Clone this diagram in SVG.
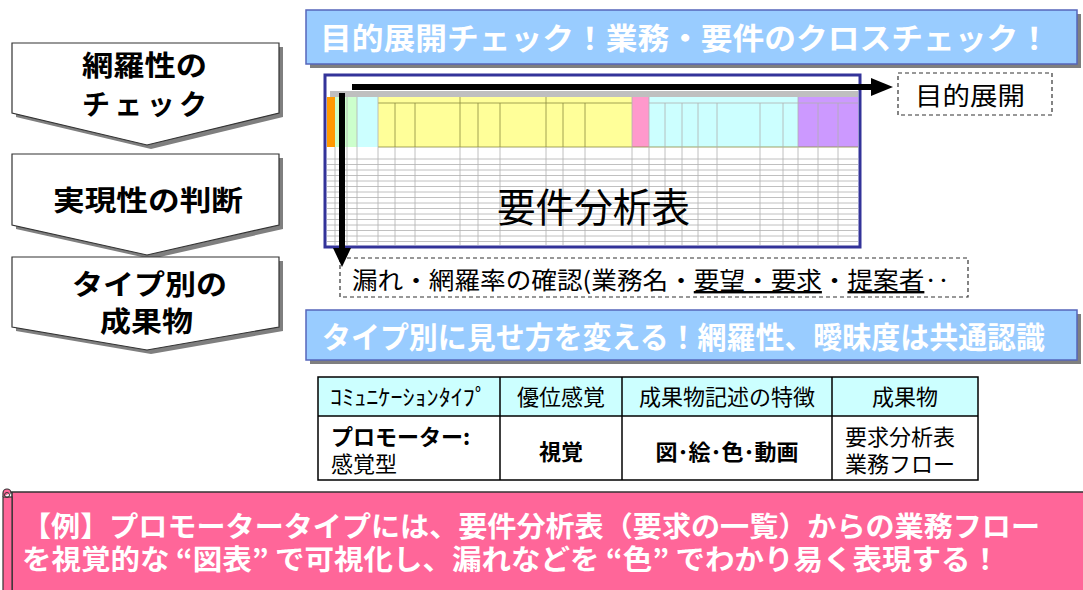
<svg xmlns="http://www.w3.org/2000/svg" width="1083" height="590" viewBox="0 0 1083 590">
<style>
text{font-family:"Noto Sans CJK JP","Noto Sans CJK SC",sans-serif}
.chev{fill:#fff;stroke:#333;stroke-width:1.2}
.shadow{fill:#7f7f7f}
.ct{font-size:28px;font-weight:bold;fill:#000}
.banner{fill:#99CCFF;stroke:#5566BB;stroke-width:1.5}
.bt{font-size:30px;font-weight:bold;fill:#fff}
.dash{fill:#fff;stroke:#333;stroke-width:1.2;stroke-dasharray:4 3}
.gl{stroke:#b0b0b0;stroke-width:0.8}
.hd{stroke:#8a8a40;stroke-width:0.8}
.tb{font-size:22px;fill:#000}
.pk{font-size:28px;font-weight:bold;fill:#fff}
</style>

<g id="chevron1">
<polygon class="shadow" points="16,47 283,47 283,117 151,149 16,117"/>
<polygon class="chev" points="12,43 279,43 279,113 147,145 12,113"/>
<text class="ct" x="82" y="76" textLength="125" lengthAdjust="spacingAndGlyphs">網羅性の</text>
<text class="ct" x="82" y="115" textLength="125" lengthAdjust="spacing">チェック</text>
</g>
<g id="chevron2">
<polygon class="shadow" points="16,158 283,158 283,229 151,259 16,229"/>
<polygon class="chev" points="12,154 279,154 279,225 147,255 12,225"/>
<text class="ct" x="53" y="211" textLength="190" lengthAdjust="spacingAndGlyphs">実現性の判断</text>
</g>
<g id="chevron3">
<polygon class="shadow" points="16,261 283,261 283,331 151,354 16,331"/>
<polygon class="chev" points="12,257 279,257 279,327 147,350 12,327"/>
<text class="ct" x="72" y="295" textLength="155" lengthAdjust="spacingAndGlyphs">タイプ別の</text>
<text class="ct" x="100" y="332" textLength="93" lengthAdjust="spacingAndGlyphs">成果物</text>
</g>

<g id="banner1">
<rect x="310" y="14" width="771" height="54" class="shadow"/>
<rect x="306" y="10" width="771" height="54" class="banner"/>
<text class="bt" x="320" y="49" textLength="730" lengthAdjust="spacingAndGlyphs">目的展開チェック！業務・要件のクロスチェック！</text>
</g>

<g id="sheet">
<rect x="325" y="75" width="535" height="172" fill="#fff" stroke="#333399" stroke-width="3"/>
<rect x="330" y="91" width="528" height="6" fill="#bfbfbf"/>
<rect x="378" y="97" width="254" height="6" fill="#ffff99"/>
<rect x="632" y="97" width="17" height="6" fill="#ff99cc"/>
<rect x="649" y="97" width="149" height="6" fill="#ccffff"/>
<rect x="798" y="97" width="60" height="6" fill="#cc99ff"/>
<rect x="327" y="97" width="8" height="50" fill="#ff9900"/>
<rect x="335" y="97" width="22" height="50" fill="#ccffcc"/>
<rect x="357" y="97" width="21" height="50" fill="#ccffff"/>
<rect x="378" y="103" width="254" height="44" fill="#ffff99"/>
<rect x="632" y="103" width="17" height="44" fill="#ff99cc"/>
<rect x="649" y="103" width="149" height="44" fill="#ccffff"/>
<rect x="798" y="103" width="60" height="44" fill="#cc99ff"/>
<g class="hd">
<line x1="378" y1="103" x2="632" y2="103"/>
<line x1="378" y1="147" x2="858" y2="147"/>
<line x1="395" y1="103" x2="395" y2="147"/>
<line x1="415" y1="103" x2="415" y2="147"/>
<line x1="460" y1="97" x2="460" y2="147"/>
<line x1="478" y1="103" x2="478" y2="147"/>
<line x1="500" y1="103" x2="500" y2="147"/>
<line x1="546" y1="97" x2="546" y2="147"/>
<line x1="563" y1="103" x2="563" y2="147"/>
<line x1="585" y1="103" x2="585" y2="147"/>
</g>
<g class="gl">
<line x1="649" y1="103" x2="798" y2="103"/>
<line x1="798" y1="103" x2="858" y2="103"/>
<line x1="665" y1="103" x2="665" y2="245"/>
<line x1="682" y1="103" x2="682" y2="245"/>
<line x1="698" y1="103" x2="698" y2="245"/>
<line x1="717" y1="103" x2="717" y2="245"/>
<line x1="760" y1="103" x2="760" y2="245"/>
<line x1="783" y1="103" x2="783" y2="245"/>
<line x1="818" y1="103" x2="818" y2="245"/>
<line x1="838" y1="103" x2="838" y2="245"/>
<line x1="335" y1="147" x2="335" y2="245"/>
<line x1="347" y1="97" x2="347" y2="245"/>
<line x1="357" y1="97" x2="357" y2="245"/>
<line x1="378" y1="97" x2="378" y2="245"/>
<line x1="395" y1="147" x2="395" y2="245"/>
<line x1="415" y1="147" x2="415" y2="245"/>
<line x1="460" y1="147" x2="460" y2="245"/>
<line x1="478" y1="147" x2="478" y2="245"/>
<line x1="500" y1="147" x2="500" y2="245"/>
<line x1="546" y1="147" x2="546" y2="245"/>
<line x1="563" y1="147" x2="563" y2="245"/>
<line x1="585" y1="147" x2="585" y2="245"/>
<line x1="632" y1="97" x2="632" y2="245"/>
<line x1="649" y1="97" x2="649" y2="245"/>
<line x1="798" y1="97" x2="798" y2="245"/>
<line x1="327" y1="159" x2="858" y2="159"/>
<line x1="327" y1="164.5" x2="858" y2="164.5"/>
<line x1="327" y1="170" x2="858" y2="170"/>
<line x1="327" y1="175.5" x2="858" y2="175.5"/>
<line x1="327" y1="181" x2="858" y2="181"/>
<line x1="327" y1="186.5" x2="858" y2="186.5"/>
<line x1="327" y1="192" x2="858" y2="192"/>
<line x1="327" y1="197.5" x2="858" y2="197.5"/>
<line x1="327" y1="203" x2="858" y2="203"/>
<line x1="327" y1="208.5" x2="858" y2="208.5"/>
<line x1="327" y1="214" x2="858" y2="214"/>
<line x1="327" y1="219.5" x2="858" y2="219.5"/>
<line x1="327" y1="225" x2="858" y2="225"/>
<line x1="327" y1="230.5" x2="858" y2="230.5"/>
<line x1="327" y1="236" x2="858" y2="236"/>
<line x1="327" y1="241.5" x2="858" y2="241.5"/>
</g>
<text x="497" y="222" font-size="40" fill="#000" textLength="193" lengthAdjust="spacingAndGlyphs">要件分析表</text>
</g>

<g id="purpose">
<rect x="898" y="73" width="154" height="42" class="dash"/>
<text x="915" y="105" font-size="25" fill="#000" textLength="110" lengthAdjust="spacingAndGlyphs">目的展開</text>
</g>

<g id="check">
<rect x="340" y="258" width="628" height="39" class="dash"/>
<text x="352" y="289" font-size="24" fill="#000" textLength="598" lengthAdjust="spacingAndGlyphs">漏れ・網羅率の確認(業務名・<tspan text-decoration="underline">要望・要求</tspan>・<tspan text-decoration="underline">提案者</tspan>‥</text>
</g>

<g id="connectors">
<rect x="352" y="84" width="521" height="6" fill="#000"/>
<polygon points="871,78 893,87 871,96" fill="#000"/>
<rect x="339" y="93" width="6" height="156" fill="#000"/>
<polygon points="333,248 351,248 342,267" fill="#000"/>
</g>

<g id="banner2">
<rect x="310" y="314" width="771" height="50" class="shadow"/>
<rect x="306" y="310" width="771" height="50" class="banner"/>
<text class="bt" x="322" y="348" font-size="29" textLength="723" lengthAdjust="spacingAndGlyphs">タイプ別に見せ方を変える！網羅性、曖昧度は共通認識</text>
</g>

<g id="typetable">
<rect x="318" y="377" width="660" height="39" fill="#ccffff"/>
<rect x="318" y="377" width="660" height="103" fill="none" stroke="#000" stroke-width="1.5"/>
<line x1="318" y1="416" x2="978" y2="416" stroke="#000" stroke-width="1.5"/>
<line x1="500" y1="377" x2="500" y2="480" stroke="#000" stroke-width="1.5"/>
<line x1="622" y1="377" x2="622" y2="480" stroke="#000" stroke-width="1.5"/>
<line x1="832" y1="377" x2="832" y2="480" stroke="#000" stroke-width="1.5"/>
<text class="tb" x="330" y="405" font-size="19" textLength="157" lengthAdjust="spacingAndGlyphs">ｺﾐｭﾆｹｰｼｮﾝﾀｲﾌﾟ</text>
<text class="tb" x="561" y="405" text-anchor="middle">優位感覚</text>
<text class="tb" x="727" y="405" text-anchor="middle">成果物記述の特徴</text>
<text class="tb" x="905" y="405" text-anchor="middle">成果物</text>
<text class="tb" x="331" y="445" font-weight="bold">プロモーター:</text>
<text class="tb" x="331" y="472">感覚型</text>
<text class="tb" x="561" y="460" text-anchor="middle" font-weight="bold">視覚</text>
<text class="tb" x="727" y="460" text-anchor="middle" font-weight="bold">図･絵･色･動画</text>
<text class="tb" x="845" y="445">要求分析表</text>
<text class="tb" x="845" y="472">業務フロー</text>
</g>

<g id="example">
<rect x="12" y="492" width="1080" height="100" fill="#FF6699" stroke="#333" stroke-width="1.5"/>
<rect x="3" y="497" width="9" height="95" fill="#FF6699" stroke="#333" stroke-width="1.2"/>
<path d="M3,497 L3,493 A4,4 0 0 1 11,493 L12,492" fill="#FF6699" stroke="#333" stroke-width="1.2"/>
<circle cx="7" cy="495" r="2.5" fill="none" stroke="#333" stroke-width="1"/>
<text class="pk" x="22" y="537" textLength="1018" lengthAdjust="spacingAndGlyphs">【例】プロモータータイプには、要件分析表（要求の一覧）からの業務フロー</text>
<text class="pk" x="22" y="570" textLength="978" lengthAdjust="spacingAndGlyphs">を視覚的な<tspan dx="6">“図表”</tspan><tspan dx="6">で可視化し、漏れなどを</tspan><tspan dx="6">“色”</tspan><tspan dx="6">でわかり易く表現する！</tspan></text>
</g>
</svg>
